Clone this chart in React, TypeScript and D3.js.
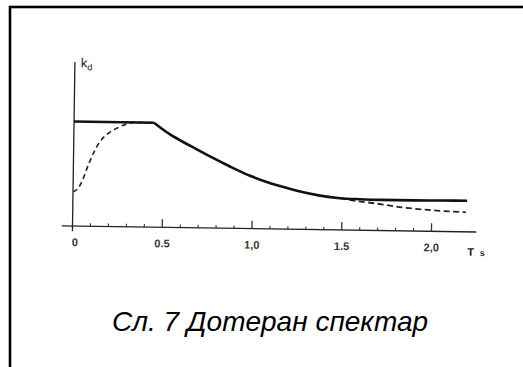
import React from "react";
import * as d3 from "d3";

// Period T (s) and dynamic coefficient kd (relative to plateau = 1)
const plateauT = [0, 0.445];
const plateauKd = [1.0, 1.0];
const decayT = [0.445, 0.536, 0.648, 0.76, 0.872, 0.985, 1.086, 1.153, 1.265, 1.376, 1.488, 1.599, 1.711, 1.9, 2.05, 2.196];
const decayKd = [1.0, 0.89, 0.785, 0.685, 0.592, 0.506, 0.444, 0.412, 0.362, 0.326, 0.304, 0.297, 0.294, 0.294, 0.296, 0.297];

const dashedRiseT = [0, 0.029, 0.056, 0.083, 0.11, 0.146, 0.192, 0.238, 0.294, 0.33, 0.445];
const dashedRiseKd = [0.328, 0.362, 0.458, 0.586, 0.698, 0.811, 0.892, 0.941, 0.984, 1.0, 1.0];
const dashedTailT = [1.488, 1.58, 1.69, 1.84, 2.03, 2.19];
const dashedTailKd = [0.304, 0.28, 0.258, 0.224, 0.199, 0.187];

const tickValues = [0.1, 0.2, 0.3, 0.4, 0.5, 0.6, 0.7, 0.8, 0.9, 1.0, 1.1, 1.2, 1.3, 1.4, 1.5, 1.6, 1.7, 1.8, 1.9, 2.0];
const majorTicks = [0.5, 1.0, 1.5, 2.0];
const tickLabels = [
  { t: 0, label: "0" },
  { t: 0.5, label: "0.5" },
  { t: 1.0, label: "1,0" },
  { t: 1.5, label: "1.5" },
  { t: 2.0, label: "2,0" },
];
const caption = "Сл. 7 Дотеран спектар";

export default function App() {
  const x = d3.scaleLinear().domain([0, 1]).range([0, 179.5]);
  const y = d3.scaleLinear().domain([0, 1]).range([0, -104.5]);

  const pts = (ts: number[], vs: number[]) => ts.map((t, i) => [t, vs[i]] as [number, number]);
  const smooth = d3
    .line<[number, number]>()
    .x((d) => x(d[0]))
    .y((d) => y(d[1]))
    .curve(d3.curveMonotoneX);
  const straight = d3
    .line<[number, number]>()
    .x((d) => x(d[0]))
    .y((d) => y(d[1]));

  const plateau = straight(pts(plateauT, plateauKd));
  const decay = smooth(pts(decayT, decayKd));
  const dashRise = smooth(pts(dashedRiseT, dashedRiseKd));
  const dashTail = smooth(pts(dashedTailT, dashedTailKd));

  return (
    <svg
      width={523}
      height={367}
      style={{ position: "absolute", left: 0, top: 0, background: "#fff" }}
      fontFamily="Liberation Sans, Arial, sans-serif"
    >
      <rect x={10} y={7} width={600} height={500} fill="none" stroke="#000" strokeWidth={2.6} />
      <g transform="translate(72.5,226) rotate(0.85)">
        {/* axes */}
        <line x1={x(-0.06)} x2={x(2.25)} y1={0} y2={0} stroke="#222" strokeWidth={1.3} />
        <line x1={0} x2={0} y1={y(-0.05)} y2={y(1.57)} stroke="#222" strokeWidth={1.3} />
        {tickValues.map((t) => {
          const major = majorTicks.includes(t);
          return (
            <line
              key={t}
              x1={x(t)}
              x2={x(t)}
              y1={0}
              y2={major ? -8 : -3}
              stroke="#333"
              strokeWidth={major ? 1.3 : 1.1}
            />
          );
        })}
        {tickLabels.map((d) => (
          <text
            key={d.label}
            x={x(d.t) + (d.t === 0 ? 2.5 : 0)}
            y={20}
            textAnchor="middle"
            fontSize={11}
            fontWeight="bold"
            fill="#333"
          >
            {d.label}
          </text>
        ))}
        <text x={x(2.22)} y={24} fontSize={11} fontWeight="bold" fill="#222" textAnchor="middle">
          T
        </text>
        <text x={x(2.285)} y={24} fontSize={9} fontWeight="bold" fill="#333" textAnchor="middle">
          s
        </text>
        <text x={6} y={y(1.52)} fontSize={13} fill="#222">
          k
          <tspan fontSize={9} dy={3}>
            d
          </tspan>
        </text>
        {/* curves */}
        <path d={dashRise ?? ""} fill="none" stroke="#222" strokeWidth={1.6} strokeDasharray="5,3.5" />
        <path d={dashTail ?? ""} fill="none" stroke="#222" strokeWidth={1.8} strokeDasharray="6,3.5" />
        <path d={plateau ?? ""} fill="none" stroke="#111" strokeWidth={2.6} />
        <path d={decay ?? ""} fill="none" stroke="#111" strokeWidth={2.6} strokeLinejoin="round" />
      </g>
      <text x={270} y={331} textAnchor="middle" fontSize={28} fontStyle="italic" fill="#000">
        {caption}
      </text>
    </svg>
  );
}
